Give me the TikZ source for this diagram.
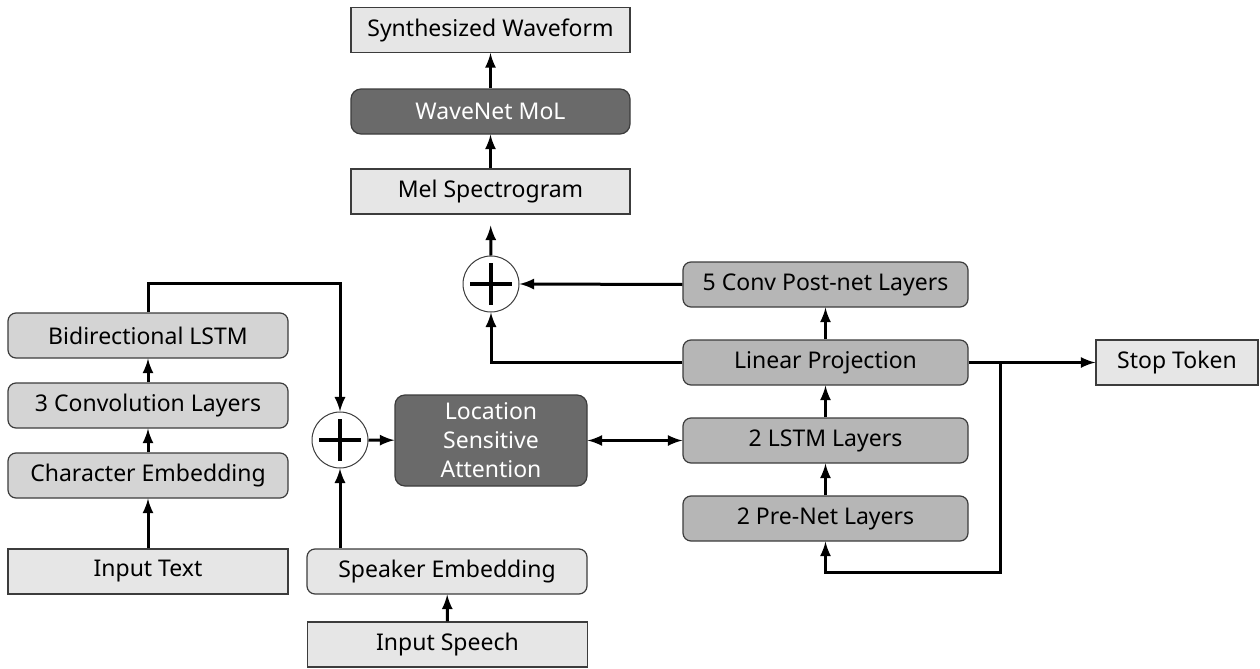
\documentclass[tikz,border=0pt]{standalone}
\usepackage{fontspec}
\setmainfont{Noto Sans}
\usetikzlibrary{arrows}
\definecolor{boxlight}{HTML}{E6E6E6}
\definecolor{boxmid}{HTML}{D4D4D4}
\definecolor{boxgray}{HTML}{B6B6B6}
\definecolor{boxdark}{HTML}{6A6A6A}
\definecolor{boxline}{HTML}{3C3C3C}
\begin{document}
\begin{tikzpicture}[x=0.5pt,y=-0.5pt,
    block/.style={draw=boxline,line width=.6pt,minimum height=22.5pt,inner sep=0pt,font=\fontsize{11.5}{14.5}\selectfont},
    plain/.style={block,fill=boxlight},
    soft/.style={block,fill=boxmid,rounded corners=4pt},
    softlight/.style={block,fill=boxlight,rounded corners=4pt},
    gray/.style={block,fill=boxgray,rounded corners=4pt,minimum width=142.5pt},
    dark/.style={block,fill=boxdark,text=white,rounded corners=5pt},
    sum/.style={circle,draw=boxline,line width=.5pt,minimum size=28pt,inner sep=0pt,
        path picture={\draw[black,line width=1.6pt] ([xshift=-10.5pt]path picture bounding box.center) -- ([xshift=10.5pt]path picture bounding box.center);
            \draw[black,line width=1.6pt] ([yshift=-10.5pt]path picture bounding box.center) -- ([yshift=10.5pt]path picture bounding box.center);}},
    flow/.style={line width=1.5pt,-latex}]
    \useasboundingbox (0,0) rectangle (1260,669);
    % vocoder
    \node[plain,minimum width=139.5pt] (synth) at (490.5,30) {Synthesized Waveform};
    \node[dark,minimum width=139.5pt] (wavenet) at (490.5,111.5) {WaveNet MoL};
    \node[plain,minimum width=139.5pt] (mel) at (490.5,191.5) {Mel Spectrogram};
    % encoder
    \node[soft,minimum width=140pt] (bilstm) at (148,335.5) {Bidirectional LSTM};
    \node[soft,minimum width=140pt] (conv3) at (148,405.5) {3 Convolution Layers};
    \node[soft,minimum width=140pt] (charemb) at (148,475.5) {Character Embedding};
    \node[plain,minimum width=140pt] (intext) at (148,571.5) {Input Text};
    \node[sum] (sum1) at (340,440) {};
    \node[dark,minimum width=96pt,minimum height=45.5pt,align=center] (lsa) at (491,440.5) {Location\\Sensitive\\Attention};
    \node[softlight,minimum width=140pt] (spkemb) at (447,571.5) {Speaker Embedding};
    \node[plain,minimum width=140pt] (inspeech) at (447.5,644.5) {Input Speech};
    % decoder
    \node[sum] (sum2) at (491,284) {};
    \node[gray] (postnet) at (825.5,284.5) {5 Conv Post-net Layers};
    \node[gray] (linproj) at (825.5,362.5) {Linear Projection};
    \node[gray] (lstm2) at (825.5,440.5) {2 LSTM Layers};
    \node[gray] (prenet) at (825.5,518.5) {2 Pre-Net Layers};
    \node[plain,minimum width=81pt] (stop) at (1177,362.5) {Stop Token};
    \coordinate (enctop) at (148,283);
    \coordinate (branch) at (1000,362.5);
    \coordinate (fbbot) at (1000,572);

    \draw[flow] (intext) -- (charemb);
    \draw[flow] (charemb) -- (conv3);
    \draw[flow] (conv3) -- (bilstm);
    \draw[flow] (bilstm.north) -- (enctop) -| (sum1.north);
    \draw[flow] (spkemb.north -| sum1) -- (sum1.south);
    \draw[flow] (inspeech) -- (spkemb);
    \draw[flow] (sum1) -- (lsa);
    \draw[line width=1.5pt,latex-latex] (lsa) -- (lstm2);
    \draw[flow] (prenet) -- (lstm2);
    \draw[flow] (lstm2) -- (linproj);
    \draw[flow] (linproj) -- (postnet);
    \draw[flow] (postnet.west) -- (sum2.east);
    \draw[flow] (linproj.west) -| (sum2.south);
    \draw[flow,shorten >=5.5pt] (sum2) -- (mel);
    \draw[flow] (mel) -- (wavenet);
    \draw[flow] (wavenet) -- (synth);
    \draw[flow] (linproj) -- (stop);
    \draw[flow] (branch) -- (fbbot) -| (prenet.south);
\end{tikzpicture}
\end{document}
